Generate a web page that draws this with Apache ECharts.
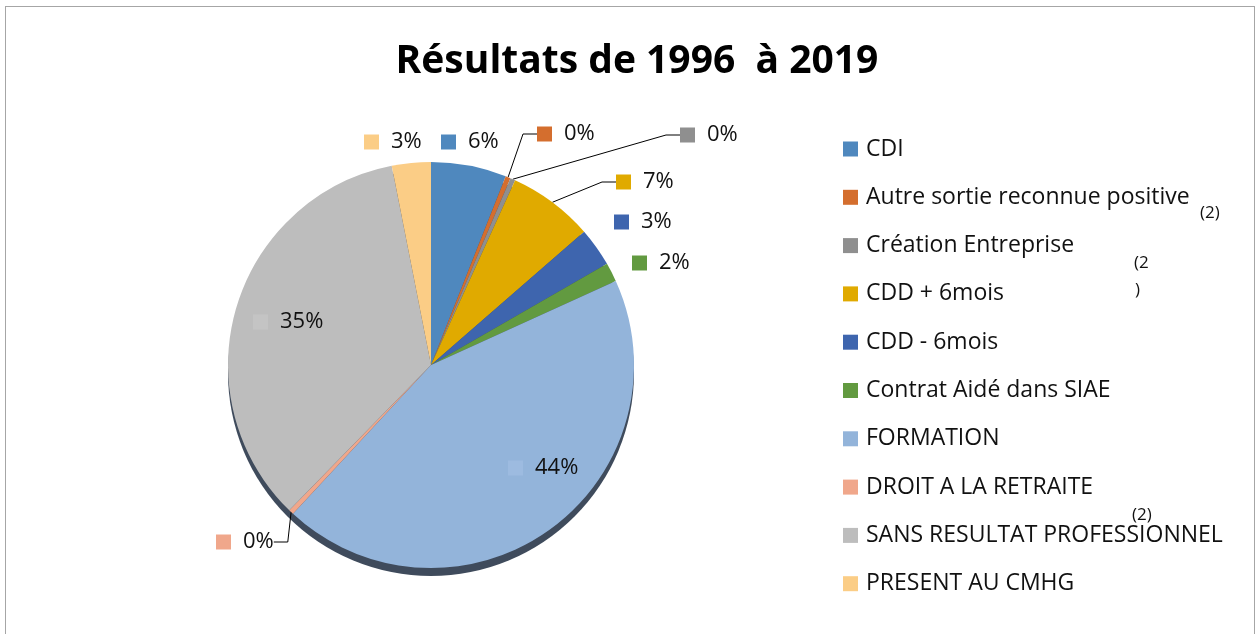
<!DOCTYPE html>
<html>
<head>
<meta charset="utf-8">
<script src="https://cdn.jsdelivr.net/npm/echarts@6/dist/echarts.min.js"></script>
<style>
  html, body { margin: 0; padding: 0; background: #fff; }
  #chart { width: 1256px; height: 634px; }
  .frame { position: absolute; left: 5px; top: 6px; width: 1250px; height: 640px;
           border: 1.5px solid #a6a6a6; box-sizing: border-box; pointer-events: none; }
</style>
</head>
<body>
<div id="chart"></div>
<div class="frame"></div>
<script>
// catégories et valeurs (en %)
const categories = ["CDI", "Autre sortie reconnue positive", "Création Entreprise", "CDD + 6mois",
  "CDD - 6mois", "Contrat Aidé dans SIAE", "FORMATION", "DROIT A LA RETRAITE",
  "SANS RESULTAT PROFESSIONNEL", "PRESENT AU CMHG"];
const values = [6.0, 0.4, 0.4, 6.8, 3.1, 1.5, 43.7, 0.4, 34.6, 3.1];
const colors = ["#4f88be", "#d46e2e", "#8f8f8f", "#e0aa00", "#3e65ae", "#629a40",
  "#93b4da", "#f0a78b", "#bdbdbd", "#fbcd86"];

// emplacement des étiquettes (bord gauche du carré, milieu vertical)
const labelPos = [[441, 142], [537, 134], [680, 135], [616, 182], [614, 222],
  [632, 263], [508, 468], [216, 542], [253, 322], [364, 142]];

const chart = echarts.init(document.getElementById("chart"));

// un style rich par catégorie pour le petit carré de couleur
let rich = { t: { fontSize: 22, color: "#111", fontFamily: "Open Sans", padding: [0, 0, 0, 12] } };
colors.forEach((c, i) => {
  rich["s" + i] = { width: 15, height: 15, backgroundColor: c };
});
rich.s6.backgroundColor = "#9dbbe0";
rich.s8.backgroundColor = "#c4c4c4";

const noLine = [0, 4, 5, 9];
const inside = [6, 8];

const data = categories.map((name, i) => {
  let d = { name: name, value: values[i], itemStyle: { color: colors[i] } };
  if (inside.includes(i)) {
    d.label = { position: "inside" };
    d.labelLine = { show: false };
  } else if (noLine.includes(i)) {
    d.labelLine = { show: false };
  }
  return d;
});

const noteStyle = { fontSize: 17, fontFamily: "Open Sans", fill: "#111" };

chart.setOption({
  animation: false,
  title: {
    text: "Résultats de 1996  à 2019",
    left: 632,
    top: 37,
    textAlign: "center",
    textStyle: { fontFamily: "Open Sans", fontWeight: "bold", fontSize: 39, color: "#000" }
  },
  legend: {
    orient: "vertical",
    left: 843,
    top: 137.5,
    padding: 0,
    itemWidth: 15,
    itemHeight: 15,
    itemGap: 25.3,
    icon: "rect",
    data: categories,
    textStyle: { fontFamily: "Open Sans", fontSize: 23, color: "#111", padding: [0, 0, 0, 3] }
  },
  graphic: [
    { type: "text", left: 1200, top: 205, style: Object.assign({ text: "(2)" }, noteStyle) },
    { type: "text", left: 1134, top: 255, style: Object.assign({ text: "(2" }, noteStyle) },
    { type: "text", left: 1135, top: 282, style: Object.assign({ text: ")" }, noteStyle) },
    { type: "text", left: 1132, top: 507, style: Object.assign({ text: "(2)" }, noteStyle) }
  ],
  series: [
    {
      // ombre du relief sous le camembert
      type: "pie",
      silent: true,
      center: [431, 373],
      radius: 203,
      label: { show: false },
      labelLine: { show: false },
      data: [{ value: 1, itemStyle: { color: "#3f4b5c" } }],
      z: 1
    },
    {
      type: "pie",
      center: [431, 365],
      radius: 203,
      startAngle: 90,
      clockwise: true,
      z: 2,
      label: {
        formatter: p => "{s" + p.dataIndex + "|}{t|" + Math.round(p.percent) + "%}",
        rich: rich
      },
      labelLine: { length: 12, length2: 14, lineStyle: { color: "#000", width: 1 } },
      labelLayout: p => {
        const pos = labelPos[p.dataIndex];
        return { x: pos[0], y: pos[1], align: "left", verticalAlign: "middle" };
      },
      data: data
    }
  ]
});
</script>
</body>
</html>
